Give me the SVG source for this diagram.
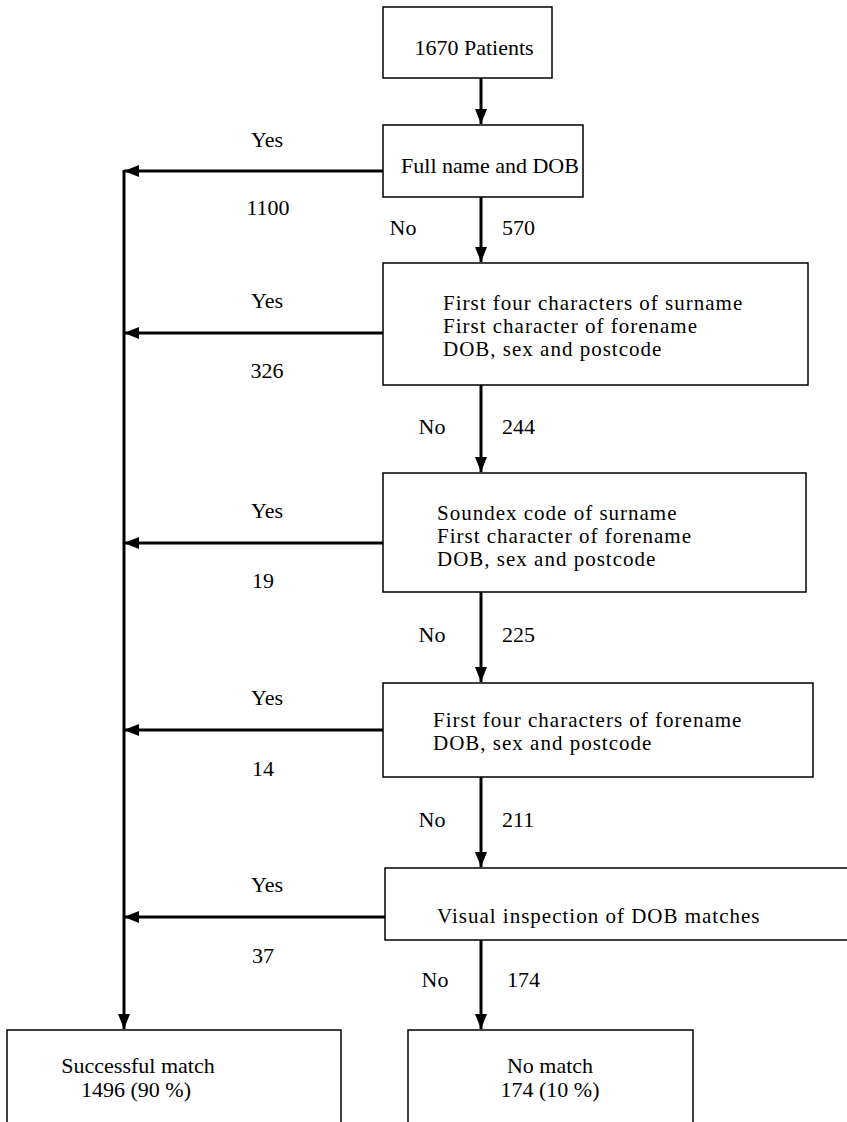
<svg xmlns="http://www.w3.org/2000/svg" width="847" height="1122" viewBox="0 0 847 1122">
<defs>
<style>
.box{fill:#fff;stroke:#000;stroke-width:1.5}
.t{font-family:"Liberation Serif","Times New Roman",serif;font-size:22px;fill:#000}
.b{font-size:21px;letter-spacing:1px}
.m{text-anchor:middle}
.c{fill:none;stroke:#000;stroke-width:3}
</style>
<marker id="ah" markerUnits="userSpaceOnUse" markerWidth="15" markerHeight="12" refX="15" refY="6" orient="auto">
<path d="M0,0 L15,6 L0,12 z" fill="#000"/>
</marker>
</defs>
<rect width="847" height="1122" fill="#fff"/>

<g id="connectors">
<line class="c" x1="481" y1="78" x2="481" y2="124" marker-end="url(#ah)"/>
<line class="c" x1="481" y1="197" x2="481" y2="262" marker-end="url(#ah)"/>
<line class="c" x1="481" y1="385" x2="481" y2="472" marker-end="url(#ah)"/>
<line class="c" x1="481" y1="592" x2="481" y2="682" marker-end="url(#ah)"/>
<line class="c" x1="481" y1="777" x2="481" y2="867" marker-end="url(#ah)"/>
<line class="c" x1="481" y1="940" x2="481" y2="1029" marker-end="url(#ah)"/>
<line class="c" x1="383" y1="171" x2="124" y2="171" marker-end="url(#ah)"/>
<line class="c" x1="383" y1="333" x2="124" y2="333" marker-end="url(#ah)"/>
<line class="c" x1="383" y1="543" x2="124" y2="543" marker-end="url(#ah)"/>
<line class="c" x1="383" y1="730" x2="124" y2="730" marker-end="url(#ah)"/>
<line class="c" x1="385" y1="917" x2="124" y2="917" marker-end="url(#ah)"/>
<line class="c" x1="124" y1="170" x2="124" y2="1029" marker-end="url(#ah)"/>
<text class="t m" x="267" y="147">Yes</text>
<text class="t m" x="268" y="215">1100</text>
<text class="t m" x="267" y="308">Yes</text>
<text class="t m" x="267" y="378">326</text>
<text class="t m" x="267" y="518">Yes</text>
<text class="t m" x="263" y="588">19</text>
<text class="t m" x="267" y="705">Yes</text>
<text class="t m" x="263" y="776">14</text>
<text class="t m" x="267" y="892">Yes</text>
<text class="t m" x="263" y="963">37</text>
<text class="t m" x="403" y="235">No</text>
<text class="t" x="502" y="235">570</text>
<text class="t m" x="432" y="434">No</text>
<text class="t" x="502" y="434">244</text>
<text class="t m" x="432" y="642">No</text>
<text class="t" x="502" y="642">225</text>
<text class="t m" x="432" y="827">No</text>
<text class="t" x="502" y="827">211</text>
<text class="t m" x="435" y="987">No</text>
<text class="t" x="507" y="987">174</text>
</g>

<g id="n1">
<rect class="box" x="383" y="7" width="169" height="71"/>
<text class="t m" x="474" y="55">1670 Patients</text>
</g>
<g id="n2">
<rect class="box" x="383" y="125" width="200" height="72"/>
<text class="t m" x="490" y="173">Full name and DOB</text>
</g>
<g id="n3">
<rect class="box" x="383" y="263" width="425" height="122"/>
<text class="t b" x="443" y="310">First four characters of surname</text>
<text class="t b" x="443" y="333">First character of forename</text>
<text class="t b" x="443" y="356">DOB, sex and postcode</text>
</g>
<g id="n4">
<rect class="box" x="383" y="473" width="423" height="119"/>
<text class="t b" x="437" y="520">Soundex code of surname</text>
<text class="t b" x="437" y="543">First character of forename</text>
<text class="t b" x="437" y="566">DOB, sex and postcode</text>
</g>
<g id="n5">
<rect class="box" x="383" y="683" width="430" height="94"/>
<text class="t b" x="433" y="727">First four characters of forename</text>
<text class="t b" x="433" y="750">DOB, sex and postcode</text>
</g>
<g id="n6">
<rect class="box" x="385" y="868" width="470" height="72"/>
<text class="t b" x="437" y="923">Visual inspection of DOB matches</text>
</g>
<g id="n7">
<rect class="box" x="7" y="1030" width="334" height="100"/>
<text class="t m" x="138" y="1073">Successful match</text>
<text class="t m" x="136" y="1097">1496 (90 %)</text>
</g>
<g id="n8">
<rect class="box" x="408" y="1030" width="285" height="100"/>
<text class="t m" x="550" y="1073">No match</text>
<text class="t m" x="550" y="1097">174 (10 %)</text>
</g>
</svg>
